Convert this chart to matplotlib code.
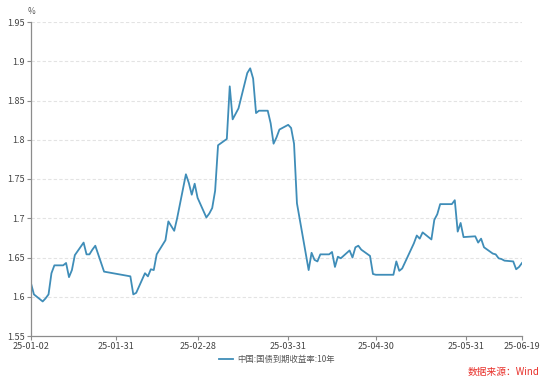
import matplotlib
matplotlib.use("Agg")
from matplotlib import pyplot as plt
import matplotlib.dates as mdates
import numpy as np
import pandas as pd

plt.rcParams['font.family'] = ['Noto Sans CJK SC', 'DejaVu Sans']

# 10y China government bond yield
dates = [
    "2025-01-02", "2025-01-03", "2025-01-06", "2025-01-07", "2025-01-08", "2025-01-09",
    "2025-01-10", "2025-01-13", "2025-01-14", "2025-01-15", "2025-01-16", "2025-01-17",
    "2025-01-20", "2025-01-21", "2025-01-22", "2025-01-23", "2025-01-24", "2025-01-27",
    "2025-02-05", "2025-02-06", "2025-02-07", "2025-02-10", "2025-02-11", "2025-02-12",
    "2025-02-13", "2025-02-14", "2025-02-17", "2025-02-18", "2025-02-19", "2025-02-20",
    "2025-02-21", "2025-02-24", "2025-02-25", "2025-02-26", "2025-02-27", "2025-02-28",
    "2025-03-03", "2025-03-04", "2025-03-05", "2025-03-06", "2025-03-07", "2025-03-10",
    "2025-03-11", "2025-03-12", "2025-03-13", "2025-03-14", "2025-03-17", "2025-03-18",
    "2025-03-19", "2025-03-20", "2025-03-21", "2025-03-24", "2025-03-25", "2025-03-26",
    "2025-03-27", "2025-03-28", "2025-03-31", "2025-04-01", "2025-04-02", "2025-04-03",
    "2025-04-07", "2025-04-08", "2025-04-09", "2025-04-10", "2025-04-11", "2025-04-14",
    "2025-04-15", "2025-04-16", "2025-04-17", "2025-04-18", "2025-04-21", "2025-04-22",
    "2025-04-23", "2025-04-24", "2025-04-25", "2025-04-28", "2025-04-29", "2025-04-30",
    "2025-05-06", "2025-05-07", "2025-05-08", "2025-05-09", "2025-05-12", "2025-05-13",
    "2025-05-14", "2025-05-15", "2025-05-16", "2025-05-19", "2025-05-20", "2025-05-21",
    "2025-05-22", "2025-05-23", "2025-05-26", "2025-05-27", "2025-05-28", "2025-05-29",
    "2025-05-30", "2025-06-03", "2025-06-04", "2025-06-05", "2025-06-06", "2025-06-09",
    "2025-06-10", "2025-06-11", "2025-06-12", "2025-06-13", "2025-06-16", "2025-06-17",
    "2025-06-18", "2025-06-19",
]
yields = [
    1.617, 1.603, 1.594, 1.598, 1.603, 1.630,
    1.640, 1.640, 1.643, 1.625, 1.634, 1.653,
    1.669, 1.654, 1.654, 1.660, 1.665, 1.632,
    1.626, 1.603, 1.605, 1.630, 1.626, 1.635,
    1.634, 1.654, 1.672, 1.696, 1.690, 1.684,
    1.700, 1.756, 1.745, 1.730, 1.744, 1.726,
    1.701, 1.706, 1.713, 1.735, 1.793, 1.801,
    1.868, 1.826, 1.833, 1.840, 1.885, 1.891,
    1.878, 1.834, 1.837, 1.837, 1.821, 1.795,
    1.803, 1.813, 1.819, 1.815, 1.795, 1.719,
    1.634, 1.656, 1.647, 1.645, 1.654, 1.654,
    1.657, 1.638, 1.651, 1.649, 1.659, 1.650,
    1.663, 1.665, 1.660, 1.652, 1.629, 1.628,
    1.628, 1.645, 1.633, 1.636, 1.660, 1.668,
    1.678, 1.674, 1.682, 1.673, 1.698, 1.705,
    1.718, 1.718, 1.718, 1.723, 1.683, 1.694,
    1.676, 1.677, 1.669, 1.674, 1.663, 1.655,
    1.654, 1.649, 1.648, 1.646, 1.645, 1.635,
    1.638, 1.643,
]

xtick_dates = ["2025-01-02", "2025-01-31", "2025-02-28", "2025-03-31",
               "2025-04-30", "2025-05-31", "2025-06-19"]
xtick_labels = ["25-01-02", "25-01-31", "25-02-28", "25-03-31",
                "25-04-30", "25-05-31", "25-06-19"]
yticks = [1.55, 1.6, 1.65, 1.7, 1.75, 1.8, 1.85, 1.9, 1.95]
ytick_labels = ["1.55", "1.6", "1.65", "1.7", "1.75", "1.8", "1.85", "1.9", "1.95"]
series_name = "中国:国债到期收益率:10年"
source = "数据来源：Wind"

x = pd.to_datetime(dates)

fig = plt.figure(figsize=(5.54, 3.84), dpi=100)
ax = fig.add_axes([31 / 554, 48 / 384, 491 / 554, 314 / 384])

ax.plot(x, yields, color="#3f8db8", linewidth=1.3, label=series_name)

ax.set_xlim(pd.Timestamp("2025-01-02"), pd.Timestamp("2025-06-19"))
ax.set_ylim(1.55, 1.95)
ax.set_xticks(pd.to_datetime(xtick_dates))
ax.set_xticklabels(xtick_labels)
ax.set_yticks(yticks)
ax.set_yticklabels(ytick_labels)

for v in yticks[1:]:
    ax.axhline(v, color="#e3e3e3", linewidth=0.8, linestyle=(0, (3, 2)), zorder=0)

for s in ["top", "right"]:
    ax.spines[s].set_visible(False)
for s in ["left", "bottom"]:
    ax.spines[s].set_color("#8c8c8c")
    ax.spines[s].set_linewidth(0.9)
ax.tick_params(axis="both", colors="#8c8c8c", labelcolor="#444444",
               labelsize=6.5, length=3, width=0.8, pad=1.5)

fig.text(31 / 554, 1 - 12 / 384, "%", fontsize=6, color="#555555", ha="center", va="center")

ax.legend(loc="center", bbox_to_anchor=(0.5, 1 - 359 / 384), bbox_transform=fig.transFigure,
          frameon=False, fontsize=6, handlelength=1.6, handletextpad=0.5, labelcolor="#555555")

fig.text(540 / 554, 1 - 372 / 384, source, fontsize=7, color="#e8302a", ha="right", va="center")

fig.savefig("out.png", dpi=100)
